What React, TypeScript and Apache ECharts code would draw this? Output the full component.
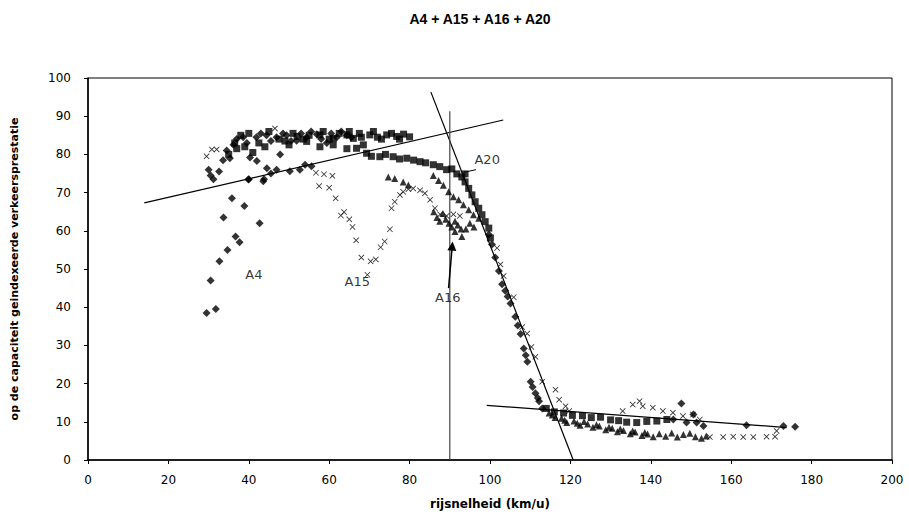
import React, { useEffect, useRef } from "react";
import * as echarts from "echarts";

const titleText = "A4 + A15 + A16 + A20";
const xName = "rijsnelheid (km/u)";
const yName = "op de capaciteit geindexeerde verkeersprestatie";

const seriesA4: number[][] = [
  [29.5, 38.5], [30.5, 47], [31.8, 39.5], [32.7, 52], [33.7, 63.5], [34.7, 55], [35.8, 68.5],
  [36.7, 58.5], [37.7, 57], [38.9, 66.5], [40, 73.5], [42.7, 62], [43.8, 73.5], [45.5, 75],
  [30, 76], [30.5, 74.5], [31.2, 73.5], [32.6, 75.5], [33.6, 78.5], [34.5, 81], [35.3, 79],
  [36.2, 82.5], [37, 84], [38.6, 84.5], [39.5, 83], [40.3, 79.2], [41.9, 84.5], [42, 78.3],
  [43, 85.5], [44.4, 85], [45.5, 83.5], [46.9, 84.5], [47.8, 80], [48.5, 85.5], [49.4, 85],
  [50.5, 83.5], [51.9, 83.6], [53, 85.5], [54.4, 84.5], [55.5, 86], [56.9, 85.3], [58, 84],
  [59.4, 83], [60.5, 85.5], [61.9, 84.5], [63, 86], [64.4, 85], [65.5, 84.5],
  [39.9, 73.4], [43.6, 73], [44.5, 76.4], [46.9, 76], [50.2, 75.6], [52.7, 76], [54, 77.3], [55.6, 76.9],
  [99.7, 59], [100.5, 56.4], [101.3, 53], [102.2, 49.5], [103, 46], [103.8, 44.3], [105.1, 41],
  [106.3, 37.5], [107.6, 33], [108.4, 29.2], [109.3, 25.7], [110.1, 20.5], [111.3, 17.5],
  [112.2, 15.4], [113, 13.5], [104.4, 42.8], [106.9, 35.2], [108.9, 27.4], [110.6, 19.1], [111.9, 16.2],
  [147.6, 14.8], [145.6, 10.6], [148.9, 9.8], [150.6, 11.9], [151.4, 9.8], [153.1, 8.9],
  [163.8, 9.1], [173, 8.9], [175.9, 8.7],
];

const seriesA15: number[][] = [
  [29.5, 79.5], [30.8, 81.3], [32, 81.3], [46.5, 86.8],
  [56.7, 75.2], [58.7, 74.8], [60.8, 74.4], [57.5, 71.7], [60, 71.3], [61.6, 68.5], [62.9, 64],
  [63.7, 64.9], [65, 63], [65.8, 61], [66.7, 57.5], [68, 53], [70.3, 52], [71.6, 52.5], [69.5, 48.5],
  [72.8, 55.7], [73.8, 57.2], [75.1, 60.4], [75.5, 65.9], [76.3, 67.6], [77.6, 69.4], [78.4, 70.2],
  [79.7, 70.9], [80.9, 71.1], [82.6, 70.6], [83.8, 69.8], [85.1, 68.1], [86.3, 65.9], [87.6, 64.3],
  [89.2, 63.9], [90.9, 64.3], [92.5, 63.9],
  [101.75, 55.5], [102.6, 51.2], [103.4, 48.2], [105.9, 42.6], [108, 34.8], [109.25, 33.1],
  [110.3, 29.6], [111.3, 27], [113, 20.5], [116.3, 18.4], [117.2, 15.8], [118.8, 14.1], [119.7, 12.8],
  [133, 12.8], [135.5, 14.5], [137.2, 15.4], [138, 14.1], [140.5, 13.7], [143, 12.8], [145.5, 12.4],
  [148, 11.5], [150.5, 11.9], [152.2, 10.6],
  [154.7, 6], [158, 6], [160.5, 6.1], [163, 6], [165.5, 6], [168.8, 6.1], [170.9, 6.1], [171.3, 7.6],
];

const seriesA16: number[][] = [
  [74.7, 74.1], [76.3, 73.7], [78.4, 72.8], [79.7, 72],
  [85.9, 74.5], [87.2, 73.2], [88.4, 71.9], [89.7, 70.2], [90.9, 68.9], [92.2, 68.1], [93.4, 66.8],
  [94.7, 65.5], [95.9, 64.2], [97.2, 63.3],
  [86, 65], [86.8, 63.5], [87.5, 62.5], [88.3, 64.5], [89, 63], [89.8, 62], [90.5, 61], [91.3, 62.5],
  [92, 61.5], [92.8, 60.5], [91.3, 59.8], [93, 58.5], [94, 60.5], [95, 62], [96, 61],
  [114.7, 12.3], [116.2, 11.1], [117.8, 10.9], [119.1, 9.8], [120.9, 10.2], [122.4, 9.1], [124.3, 9.4],
  [125.6, 8.6], [127.2, 8.9], [128.8, 7.9], [130.4, 8.3], [131.7, 7.4], [133.2, 7.7], [134.9, 6.9],
  [136.1, 7.3], [137.8, 6.4], [139.2, 6.8], [140.6, 6.1], [142.1, 6.9], [143.7, 6.2], [145.2, 7.1],
  [146.6, 6.0], [148.1, 6.7], [149.7, 7.0], [151.1, 6.1], [152.6, 5.7], [153.8, 6.3],
  [115.5, 11.8], [118.6, 10.4], [121.7, 9.6], [123.4, 10.1], [126.5, 9.2], [129.6, 8.6], [132.4, 8.1],
  [135.5, 7.6], [138.5, 7.2],
];

const seriesA20: number[][] = [
  [54.4, 83.4], [57.7, 85.1], [61, 84.2], [64.4, 85.1], [66, 84.2], [67.5, 85.5], [70.1, 85.1],
  [72, 84.5], [74.3, 85.1], [76.8, 84.7], [78.5, 85.3], [80, 84.6],
  [35, 80], [37, 81.5], [39, 82], [41, 80.5], [44, 82], [50, 82.5], [52, 84.7],
  [36.5, 83], [38, 85], [40, 85.5], [42.5, 83], [45, 86], [47.5, 84], [49, 83.5], [51, 85.5],
  [53.5, 84], [55, 85], [58.5, 86], [60, 84], [62.5, 85.5], [65, 86], [68, 84.5], [71, 86],
  [73, 84], [75.5, 85.5], [77.5, 84],
  [57.7, 82], [61, 82.5], [64.4, 81.5], [66.8, 81.6], [68.5, 82.5], [69.3, 80.3], [70.5, 79.5],
  [72.6, 79.4], [74, 80], [75.9, 79.4], [77.5, 78.8], [79.3, 79], [81, 78.5], [82.6, 78.1], [84, 77.8],
  [85.9, 77.3], [87.5, 76.8], [89.2, 76], [90.5, 76.2], [91.75, 74.9], [93, 74.1], [93.8, 74.9],
  [93.8, 72.8], [94.7, 71.1], [95.5, 69.4], [96.3, 67.6], [97.2, 65.9], [98, 64.2], [98.8, 62.4],
  [99.7, 60.7], [100.1, 58.1],
  [114, 13.5], [116, 12.6], [118.3, 12.3], [120.5, 11.7], [123, 11.6], [125.2, 11.1], [127.5, 11.2],
  [130, 10.5], [132, 10.3], [134, 9.9], [136.5, 9.8], [139, 10.1], [141.5, 10.2], [144, 10.6],
];

const trendLine = [[14, 67.3], [103.3, 89]];
const dropLine = [[85.3, 96.3], [120.7, 0]];
const capacityLine = [[90, 0], [90, 91.3]];
const tailLine = [[99.2, 14.3], [173.8, 8.5]];
const a16Arrow = [[89.7, 45], [90.6, 56]];
const a20Pointer = [[93.5, 75.3], [96.5, 76]];

const labelNames = ["A4", "A15", "A16", "A20"];
const labelPositions = [[41.25, 48.6], [67, 46.8], [89.5, 42.6], [99.3, 78.7]];

const crossSymbol =
  "path://M0,1 L1,0 L5,4 L9,0 L10,1 L6,5 L10,9 L9,10 L5,6 L1,10 L0,9 L4,5 Z";

export default function App() {
  const ref = useRef<HTMLDivElement>(null);
  useEffect(() => {
    if (!ref.current) return;
    const chart = echarts.init(ref.current, null, { renderer: "svg" });
    const lineSeries = (data: number[][], color = "#000", width = 1.2) => ({
      type: "line",
      data,
      symbol: "none",
      silent: true,
      lineStyle: { color, width },
      z: 3,
    });
    const axisCommon = {
      type: "value",
      axisLine: { show: true, lineStyle: { color: "#000", width: 1.5 } },
      axisTick: { show: true, inside: false, length: 4, lineStyle: { color: "#000" } },
      splitLine: { show: false },
      axisLabel: { color: "#000", fontFamily: "DejaVu Sans", fontSize: 12 },
      nameTextStyle: { color: "#000", fontFamily: "DejaVu Sans", fontWeight: "bold", fontSize: 11 },
    };
    chart.setOption({
      animation: false,
      backgroundColor: "#fff",
      graphic: [
        {
          type: "text",
          x: 480,
          y: 19,
          style: {
            text: titleText,
            fill: "#000",
            fontSize: 14,
            fontWeight: "bold",
            fontFamily: "Liberation Sans",
            textAlign: "center",
            textVerticalAlign: "middle",
          },
        },
      ],
      grid: {
        left: 88,
        right: 17,
        top: 78,
        bottom: 57,
        show: true,
        borderColor: "#000",
        borderWidth: 1,
        backgroundColor: "transparent",
      },
      xAxis: {
        ...axisCommon,
        min: 0,
        max: 200,
        interval: 20,
        axisLabel: { ...axisCommon.axisLabel, margin: 14 },
        name: xName,
        nameLocation: "middle",
        nameGap: 38,
        nameTextStyle: { ...axisCommon.nameTextStyle, fontSize: 12 },
      },
      yAxis: {
        ...axisCommon,
        min: 0,
        max: 100,
        interval: 10,
        axisLabel: { ...axisCommon.axisLabel, margin: 17 },
        name: yName,
        nameLocation: "middle",
        nameGap: 68,
      },
      series: [
        lineSeries(trendLine),
        lineSeries(dropLine),
        lineSeries(capacityLine, "#444", 1.2),
        lineSeries(tailLine),
        lineSeries(a20Pointer, "#000", 1),
        {
          type: "lines",
          coordinateSystem: "cartesian2d",
          silent: true,
          symbol: ["none", "triangle"],
          symbolSize: 9,
          lineStyle: { color: "#000", width: 1.5, opacity: 1 },
          data: [{ coords: a16Arrow }],
          z: 4,
        },
        {
          name: "A4",
          type: "scatter",
          data: seriesA4,
          symbol: "diamond",
          symbolSize: 8,
          itemStyle: { color: "#000" },
          z: 5,
        },
        {
          name: "A15",
          type: "scatter",
          data: seriesA15,
          symbol: crossSymbol,
          symbolSize: 6,
          itemStyle: { color: "#000" },
          z: 5,
        },
        {
          name: "A16",
          type: "scatter",
          data: seriesA16,
          symbol: "triangle",
          symbolSize: 7,
          itemStyle: { color: "#000" },
          z: 5,
        },
        {
          name: "A20",
          type: "scatter",
          data: seriesA20,
          symbol: "rect",
          symbolSize: 7,
          itemStyle: { color: "#000" },
          z: 5,
        },
        {
          type: "scatter",
          silent: true,
          symbolSize: 0,
          data: labelNames.map((n, i) => ({ name: n, value: labelPositions[i] })),
          label: {
            show: true,
            position: "inside",
            formatter: "{b}",
            color: "#000",
            textBorderWidth: 0,
            textBorderColor: "transparent",
            fontFamily: "DejaVu Sans",
            fontSize: 13,
          },
          z: 6,
        },
      ],
    });
    return () => chart.dispose();
  }, []);
  return (
    <div
      ref={ref}
      style={{ position: "fixed", left: 0, top: 0, width: 909, height: 517, background: "#fff" }}
    />
  );
}
